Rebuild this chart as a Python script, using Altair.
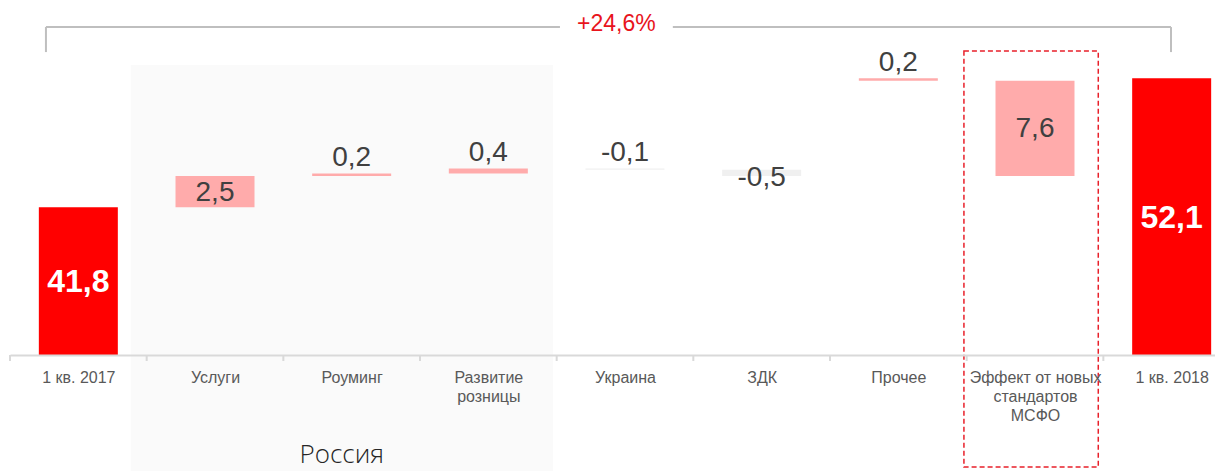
import altair as alt
import pandas as pd

# ---------------- data ----------------
categories = ["1 кв. 2017", "Услуги", "Роуминг", "Развитие\nрозницы", "Украина",
              "ЗДК", "Прочее", "Эффект от новых\nстандартов\nМСФО", "1 кв. 2018"]
start_total = 41.8
end_total = 52.1
delta_categories = ["Услуги", "Роуминг", "Развитие\nрозницы", "Украина", "ЗДК",
                    "Прочее", "Эффект от новых\nстандартов\nМСФО"]
delta_values = [2.5, 0.2, 0.4, -0.1, -0.5, 0.2, 7.6]
# order in which the steps are stacked on the bridge
accumulation_order = ["Услуги", "Роуминг", "Развитие\nрозницы", "Украина", "ЗДК",
                      "Эффект от новых\nстандартов\nМСФО", "Прочее"]
growth_label = "+24,6%"
group_label = "Россия"
group_first, group_after = "Услуги", "Украина"
highlight_category = "Эффект от новых\nстандартов\nМСФО"

# ---------------- build table ----------------
def fmt(v):
    return f"{v:.1f}".replace(".", ",")

BAND = 0.578  # bar width as a share of the category slot
idx = {c: i for i, c in enumerate(categories)}
delta = dict(zip(delta_categories, delta_values))
lo_hi = {}
level = start_total
for c in accumulation_order:
    lo_hi[c] = (level, level + delta[c])
    level += delta[c]

Y0 = 30.0
rows = [{"cat": categories[0], "lo": Y0, "hi": start_total, "kind": "total",
         "label": fmt(start_total)}]
for c in categories[1:-1]:
    a, b = lo_hi[c]
    v = delta[c]
    rows.append({"cat": c, "lo": min(a, b), "hi": max(a, b),
                 "kind": "pos" if v > 0 else "neg", "label": fmt(v)})
rows.append({"cat": categories[-1], "lo": Y0, "hi": end_total, "kind": "total",
             "label": fmt(end_total)})
df = pd.DataFrame(rows)
df["i"] = df["cat"].map(idx)
df["xc"] = df["i"] + 0.5
df["x1"] = df["i"] + (1 - BAND) / 2
df["x2"] = df["i"] + (1 + BAND) / 2
df["mid"] = (df["lo"] + df["hi"]) / 2
df["size"] = df["hi"] - df["lo"]

n = len(categories)
Y_DOMAIN = [Y0, 57.72]
xq = alt.Scale(domain=[0, n], range=[0, 1230], nice=False, zero=False)
yscale = alt.Scale(domain=Y_DOMAIN, nice=False, zero=False)
FONT = "Liberation Sans"

label_array = "[" + ",".join("'" + c.replace("\n", "|") + "'" for c in categories) + "]"
xaxis = alt.Axis(values=[i + 0.5 for i in range(n)], ticks=False, grid=False,
                 labelExpr=f"split({label_array}[floor(datum.value)], '|')",
                 labelFont=FONT, labelFontSize=16, labelColor="#595959",
                 labelLineHeight=19, labelPadding=14, labelBaseline="top",
                 labelAngle=0, labelFlush=False, labelOverlap=False, labelLimit=300,
                 domainColor="#D9D9D9", domainWidth=2, title=None, zindex=1)

# ---------------- background group (Россия) ----------------
gx1 = idx[group_first] - 0.117
gx2 = idx[group_after] - 0.027
grp = pd.DataFrame([{"x1": gx1, "x2": gx2, "y1": 53.16, "y2": 20.0,
                     "tx": (gx1 + gx2) / 2, "ty": 22.0, "t": group_label}])
grp_rect = alt.Chart(grp).mark_rect(color="#FAFAFA").encode(
    x=alt.X("x1:Q", scale=xq, axis=xaxis), x2="x2:Q",
    y=alt.Y("y1:Q", scale=yscale, axis=None), y2="y2:Q")
grp_text = alt.Chart(grp).mark_text(font="Open Sans", fontWeight=300, fontSize=26,
                                    color="#262626", baseline="middle").encode(
    x="tx:Q", y="ty:Q", text="t:N")

# ---------------- bars & labels ----------------
base = alt.Chart(df)
bars = base.mark_rect().encode(
    x="x1:Q", x2="x2:Q", y="lo:Q", y2="hi:Q",
    color=alt.Color("kind:N", legend=None,
                    scale=alt.Scale(domain=["total", "pos", "neg"],
                                    range=["#FF0000", "#FFABAB", "#F0F0F0"])))

# small tick marks at the category boundaries
ticks_df = pd.DataFrame({"b": list(range(n + 1))})
ticks = alt.Chart(ticks_df).mark_rule(color="#D9D9D9", strokeWidth=2).encode(
    x="b:Q", y=alt.datum(Y0), y2=alt.datum(Y0 - 0.48))

lab_above = base.transform_filter("datum.kind != 'total' && datum.size < 0.5").mark_text(
    font=FONT, fontSize=28, color="#404040", baseline="bottom", dy=-1).encode(
    x="xc:Q", y="hi:Q", text="label:N")
lab_inside = base.transform_filter("datum.kind != 'total' && datum.size >= 1").mark_text(
    font=FONT, fontSize=28, color="#404040", baseline="middle", dy=1).encode(
    x="xc:Q", y="mid:Q", text="label:N")
lab_low = base.transform_filter(
    "datum.kind != 'total' && datum.size >= 0.5 && datum.size < 1").mark_text(
    font=FONT, fontSize=28, color="#404040", baseline="middle", dy=5).encode(
    x="xc:Q", y="mid:Q", text="label:N")
lab_total = base.transform_filter("datum.kind == 'total'").mark_text(
    font=FONT, fontSize=32, fontWeight="bold", color="#FFFFFF", baseline="middle", dy=1).encode(
    x="xc:Q", y="mid:Q", text="label:N")

# ---------------- highlight box ----------------
hi_box = pd.DataFrame([{"x1": idx[highlight_category] - 0.02,
                        "x2": idx[highlight_category] + 0.963,
                        "y1": 54.28, "y2": 21.05}])
hbox = alt.Chart(hi_box).mark_rect(filled=False, stroke="#E8202A", strokeWidth=1.5,
                                   strokeDash=[5, 3]).encode(
    x="x1:Q", x2="x2:Q", y="y1:Q", y2="y2:Q")

# ---------------- growth bracket ----------------
bx_left = idx[categories[0]] + 0.263
bx_right = idx[categories[-1]] + 0.495
b_text_x = idx["Украина"] + 0.437
b_gap = 0.413
b_top, b_leg = 56.2, 54.2
seg = pd.DataFrame([
    {"x1": bx_left, "x2": b_text_x - b_gap, "y1": b_top, "y2": b_top},
    {"x1": b_text_x + b_gap, "x2": bx_right, "y1": b_top, "y2": b_top},
    {"x1": bx_left, "x2": bx_left, "y1": b_top, "y2": b_leg},
    {"x1": bx_right, "x2": bx_right, "y1": b_top, "y2": b_leg},
])
bracket = alt.Chart(seg).mark_rule(color="#BFBFBF", strokeWidth=2).encode(
    x="x1:Q", x2="x2:Q", y="y1:Q", y2="y2:Q")
btxt = alt.Chart(pd.DataFrame([{"x": b_text_x, "y": 56.45, "t": growth_label}])).mark_text(
    font=FONT, fontSize=23, color="#E8141C", baseline="middle").encode(
    x="x:Q", y="y:Q", text="t:N")

chart = alt.layer(grp_rect, grp_text, bars, ticks, lab_above, lab_inside, lab_low,
                  lab_total, hbox, bracket, btxt).properties(
    width=1205, height=347,
    autosize=alt.AutoSizeParams(type="none"),
    padding={"left": 2, "top": 0, "right": 0, "bottom": 116},
).configure_view(stroke=None)

chart.save("out.html", embed_options={"renderer": "svg", "actions": False})
